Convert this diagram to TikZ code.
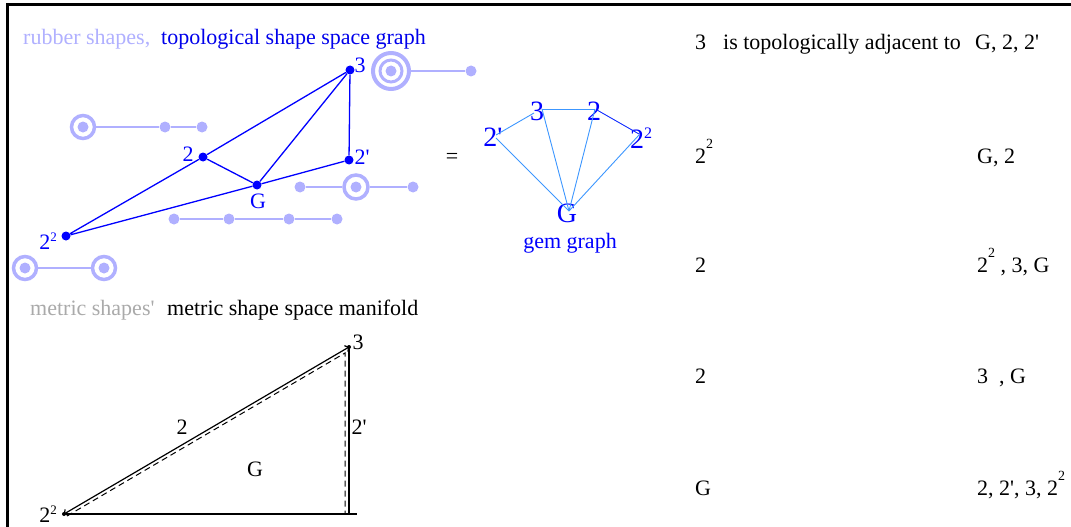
\documentclass[tikz,border=0pt]{standalone}
\usepackage{fontspec}
\setmainfont{Liberation Serif}
\usetikzlibrary{arrows.meta}
\definecolor{rubber}{RGB}{176,176,255}
\definecolor{topoblue}{RGB}{0,0,235}
\definecolor{gemblue}{RGB}{60,150,255}
\definecolor{metricgray}{RGB}{170,170,170}
\newcommand{\primemark}{\textquotesingle}
\newcommand{\twosq}[2]{2\raisebox{#1}{\fontsize{#2}{#2}\selectfont 2}}

\begin{document}
\begin{tikzpicture}[x=1pt,y=-1pt,
  every node/.style={inner sep=0pt,font=\fontsize{22}{26}\selectfont},
  vertex/.style={circle,fill=blue,minimum size=9pt},
  bead/.style={circle,fill=rubber,minimum size=11pt},
  ring/.style={circle,draw=rubber,line width=3.5pt,minimum size=23pt},
  rubberline/.style={rubber,line width=2.5pt},
  topoedge/.style={blue,line width=1.3pt},
  gemlabel/.style={blue,font=\fontsize{28}{32}\selectfont},
  gemedge/.style={gemblue,line width=0.9pt},
  mdot/.style={circle,fill=black,minimum size=4pt},
  metricline/.style={black,line width=1.2pt},
  row/.style={anchor=base west}]
  \useasboundingbox (0,0) rectangle (1071,527);
  \draw[line width=3pt] (7,527) -- (7,5) -- (1071,5);

  \node[row,rubber] (trub) at (23,45) {rubber shapes,};
  \node[row,topoblue] (ttop) at (161,45) {topological shape space graph};

  \node[ring,minimum size=36pt,line width=4pt] (ra) at (391,71) {};
  \node[ring,minimum size=22pt,line width=3pt] (raa) at (ra) {};
  \node[bead] (rab) at (ra) {};
  \node[bead] (rac) at (471,71) {};
  \draw[rubberline] (ra) -- (rac);

  \node[ring] (rb) at (83,127) {};
  \node[bead] (rbb) at (rb) {};
  \node[bead] (rbc) at (165,127) {};
  \node[bead] (rbd) at (202,127) {};
  \draw[rubberline] (rb) -- (rbc) -- (rbd);

  \node[bead] (rca) at (300,187) {};
  \node[ring,minimum size=24pt] (rc) at (356,187) {};
  \node[bead] (rcb) at (rc) {};
  \node[bead] (rcc) at (413,187) {};
  \draw[rubberline] (rca) -- (rc) -- (rcc);

  \foreach \x/\n in {174/a,229/b,289/c,337/d}
    \node[bead] (rd\n) at (\x,219) {};
  \draw[rubberline] (rda) -- (rdb) -- (rdc) -- (rdd);

  \node[ring] (rea) at (25,268) {};
  \node[ring] (reb) at (104,268) {};
  \node[bead] (reab) at (rea) {};
  \node[bead] (rebb) at (reb) {};
  \draw[rubberline] (rea) -- (reb);

  \node[vertex] (v3) at (350,70) {};
  \node[vertex] (v2) at (203,157) {};
  \node[vertex] (v2p) at (349,160) {};
  \node[vertex] (vG) at (257,185) {};
  \node[vertex] (v22) at (66,236) {};
  \draw[topoedge] (v3) -- (v2) (v3) -- (vG) (v3) -- (v2p)
    (v2) -- (vG) (v2) -- (v22) (v22) -- (vG) (vG) -- (v2p);
  \node[blue] (l3) at (360,65) {3};
  \node[blue] (l2) at (188,154) {2};
  \node[blue] (l2p) at (362,157) {2\primemark};
  \node[blue] (lG) at (258,201) {G};
  \node[blue] (l22) at (48,241) {\twosq{8pt}{13}};

  \node (eq) at (452,158) {=};

  \node[gemlabel] (g2p) at (493,137) {2\primemark};
  \node[gemlabel] (g3) at (537,111) {3};
  \node[gemlabel] (g2) at (594,111) {2};
  \node[gemlabel] (g22) at (641,138) {\twosq{10pt}{16}};
  \node[gemlabel] (gG) at (567,213) {G};
  \node[blue] (ggem) at (570,243) {gem graph};
  \draw[gemedge] ([shift={(3,-2)}]g2p.center) -- ([shift={(-3,2)}]g3.center);
  \draw[gemedge] ([shift={(5,-2)}]g3.center) -- ([shift={(1,-2)}]g2.center);
  \draw[gemedge,blue!70!gemblue] ([shift={(3,-1)}]g2.center) -- ([shift={(-2,-4)}]g22.center);
  \foreach \n/\dx/\dy in {g2p/3/1,g3/5/-2,g2/1/-2,g22/-2/-3}
    \draw[gemedge] ([shift={(2,-2)}]gG.center) -- ([shift={(\dx,\dy)}]\n.center);

  \node[row,metricgray] (tmet) at (30,315) {metric shapes\primemark};
  \node[row] (tman) at (167,315) {metric shape space manifold};

  \node[mdot] (m3) at (349,347) {};
  \node[mdot] (m22) at (64,514) {};
  \coordinate (mc) at (349,514);
  \coordinate (mend) at (357,514);
  \draw[metricline,{Straight Barb[length=2.5pt,width=7pt]}-{Straight Barb[length=2.5pt,width=7pt]}]
    (m22.center) -- (m3.center);
  \draw[metricline] (m3.center) -- (mc);
  \draw[metricline] (m22.center) -- (mend);
  \draw[line width=1pt,dash pattern=on 6pt off 4pt] ([shift={(3,2)}]m22.center)
    -- ([shift={(-4,6)}]m3.center) -- ([shift={(-4,0)}]mc);
  \node (ml3) at (358,342) {3};
  \node (ml2) at (182,427) {2};
  \node (ml2p) at (359,427) {2\primemark};
  \node (mlG) at (255,469) {G};
  \node[anchor=base] (ml22) at (48,522) {\twosq{8pt}{13}};

  \node[row] (a1) at (695,49) {3};
  \node[row] (a1t) at (723,49) {is topologically adjacent to};
  \node[row] (b1) at (975,49) {G, 2, 2\primemark};
  \node[row] (a2) at (695,163) {\twosq{15pt}{14}};
  \node[row] (b2) at (977,163) {G, 2};
  \node[row] (a3) at (695,272) {2};
  \node[row] (b3) at (977,272) {\twosq{15pt}{14} , 3, G};
  \node[row] (a4) at (695,383) {2};
  \node[row] (b4) at (977,383) {3\ \ , G};
  \node[row] (a5) at (695,495) {G};
  \node[row] (b5) at (977,495) {2, 2\primemark, 3, \twosq{15pt}{14}};
\end{tikzpicture}
\end{document}
